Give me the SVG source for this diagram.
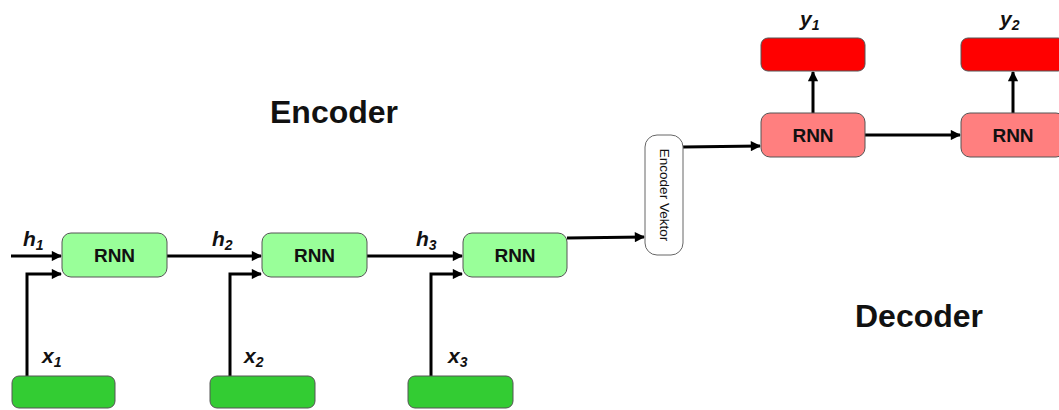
<svg xmlns="http://www.w3.org/2000/svg" width="1059" height="410" viewBox="0 0 1059 410">
<style>
.enc{fill:#99FF99;stroke:#555;stroke-width:1}
.inp{fill:#33CC33;stroke:#555;stroke-width:1}
.dec{fill:#FF7F7F;stroke:#555;stroke-width:1}
.out{fill:#FF0000;stroke:#555;stroke-width:1}
.vec{fill:#fff;stroke:#666;stroke-width:1}
.lbl{font-family:"Liberation Sans",Arial,sans-serif;font-weight:bold;font-size:19px;fill:#111;text-anchor:middle}
.var{font-family:"Liberation Sans",Arial,sans-serif;font-weight:bold;font-style:italic;font-size:21px;fill:#111}
.sub{font-size:14px}
.title{font-family:"Liberation Sans",Arial,sans-serif;font-weight:bold;font-size:32px;fill:#111;text-anchor:middle}
.c{fill:none;stroke:#000;stroke-width:3;marker-end:url(#ah)}
</style>
<defs>
<marker id="ah" viewBox="0 0 10 10" refX="9" refY="5" markerWidth="4" markerHeight="3.4" orient="auto" markerUnits="strokeWidth">
<path d="M0,0 L10,5 L0,10 z" fill="#000"/>
</marker>
</defs>
<g id="titles">
<text class="title" x="334" y="123">Encoder</text>
<text class="title" x="919" y="327">Decoder</text>
</g>
<g id="connectors">
<path class="c" d="M11,256 H61"/>
<path class="c" d="M27,376 V274 H61"/>
<path class="c" d="M167,256 H261"/>
<path class="c" d="M230,376 V274 H261"/>
<path class="c" d="M367,256 H462"/>
<path class="c" d="M431,376 V274 H462"/>
<path class="c" d="M567,238 L644,237"/>
<path class="c" d="M683,147 L760,146"/>
<path class="c" d="M865,135 H960"/>
<path class="c" d="M813,113 V72"/>
<path class="c" d="M1013,113 V72"/>
</g>
<g id="labels">
<text class="var" x="23" y="246">h<tspan class="sub" dy="4">1</tspan></text>
<text class="var" x="212" y="246">h<tspan class="sub" dy="4">2</tspan></text>
<text class="var" x="416" y="246">h<tspan class="sub" dy="4">3</tspan></text>
<text class="var" x="42" y="363">x<tspan class="sub" dy="4">1</tspan></text>
<text class="var" x="244" y="363">x<tspan class="sub" dy="4">2</tspan></text>
<text class="var" x="448" y="363">x<tspan class="sub" dy="4">3</tspan></text>
<text class="var" x="800" y="26">y<tspan class="sub" dy="4">1</tspan></text>
<text class="var" x="1000" y="26">y<tspan class="sub" dy="4">2</tspan></text>
</g>
<g id="enc-rnn1"><rect class="enc" x="62" y="233" width="105" height="44" rx="9"/><text class="lbl" x="114.5" y="262">RNN</text></g>
<g id="enc-rnn2"><rect class="enc" x="262" y="233" width="105" height="44" rx="9"/><text class="lbl" x="314.5" y="262">RNN</text></g>
<g id="enc-rnn3"><rect class="enc" x="463" y="233" width="104" height="44" rx="9"/><text class="lbl" x="515" y="262">RNN</text></g>
<g id="x1"><rect class="inp" x="12" y="376" width="103" height="32" rx="7"/></g>
<g id="x2"><rect class="inp" x="210" y="376" width="105" height="32" rx="7"/></g>
<g id="x3"><rect class="inp" x="408" y="376" width="105" height="32" rx="7"/></g>
<g id="encoder-vektor"><rect class="vec" x="645" y="135" width="38" height="120" rx="12"/><text x="664" y="195" transform="rotate(90 664 195)" font-family="'Liberation Sans',Arial,sans-serif" font-size="13.5" fill="#111" text-anchor="middle" dominant-baseline="central">Encoder Vektor</text></g>
<g id="dec-rnn1"><rect class="dec" x="761" y="113" width="104" height="44" rx="9"/><text class="lbl" x="813" y="142">RNN</text></g>
<g id="dec-rnn2"><rect class="dec" x="961" y="113" width="104" height="44" rx="9"/><text class="lbl" x="1013" y="142">RNN</text></g>
<g id="y1"><rect class="out" x="761" y="38" width="104" height="33" rx="7"/></g>
<g id="y2"><rect class="out" x="961" y="38" width="104" height="33" rx="7"/></g>
</svg>
